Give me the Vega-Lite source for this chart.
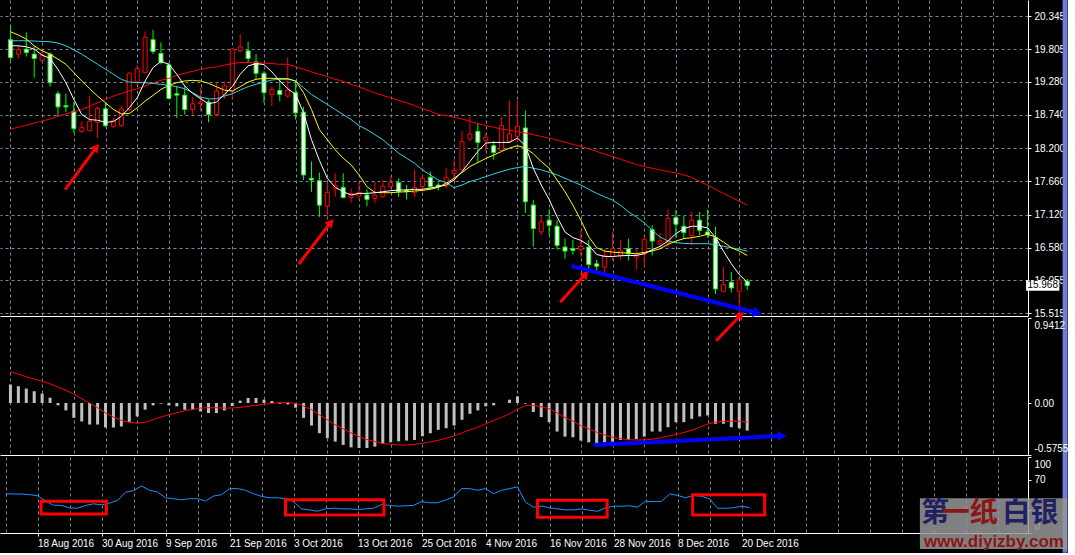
{
"$schema":"https://vega.github.io/schema/vega-lite/v6.json",
"background":"#000000",
"padding":0,
"spacing":2,
"bounds":"flush",
"resolve":{"scale":{"x":"independent","y":"independent"}},
"config":{
 "view":{"stroke":null,"fill":null},
 "axis":{"labelColor":"#ffffff","labelFont":"Liberation Sans","labelFontSize":10,"tickColor":"#ffffff","domainColor":"#ffffff","gridColor":"#778899","gridDash":[3,3],"gridWidth":1,"gridOpacity":1,"tickSize":3,"labelPadding":3,"labelOverlap":false,"labelBound":false,"labelFlush":false,"title":null}
},
"datasets":{
"bars":[
{"i":0,"d":"2016-08-12","o":19.963,"h":20.203,"l":19.631,"c":19.674,"m5":19.865,"m10":20.094,"m20":19.947,"m60":18.512,"hist":0.204,"sig":0.346,"rsi":51.7},
{"i":1,"d":"2016-08-15","o":19.729,"h":19.865,"l":19.658,"c":19.8,"m5":19.865,"m10":20.04,"m20":19.947,"m60":18.54,"hist":0.186,"sig":0.32,"rsi":51.3},
{"i":2,"d":"2016-08-16","o":19.811,"h":20.083,"l":19.691,"c":19.756,"m5":19.849,"m10":19.974,"m20":19.947,"m60":18.572,"hist":0.16,"sig":0.29,"rsi":51.3},
{"i":3,"d":"2016-08-17","o":19.729,"h":19.865,"l":19.347,"c":19.658,"m5":19.811,"m10":19.865,"m20":19.942,"m60":18.611,"hist":0.13,"sig":0.264,"rsi":50.4},
{"i":4,"d":"2016-08-18","o":19.631,"h":19.783,"l":19.593,"c":19.713,"m5":19.713,"m10":19.783,"m20":19.936,"m60":18.638,"hist":0.104,"sig":0.242,"rsi":49.1},
{"i":5,"d":"2016-08-19","o":19.729,"h":19.756,"l":19.2,"c":19.265,"m5":19.66,"m10":19.729,"m20":19.931,"m60":18.676,"hist":0.059,"sig":0.212,"rsi":42.0},
{"i":6,"d":"2016-08-22","o":19.085,"h":19.129,"l":18.709,"c":18.872,"m5":19.48,"m10":19.647,"m20":19.909,"m60":18.72,"hist":-0.026,"sig":0.178,"rsi":36.6},
{"i":7,"d":"2016-08-23","o":18.894,"h":19.085,"l":18.785,"c":18.872,"m5":19.265,"m10":19.565,"m20":19.865,"m60":18.758,"hist":-0.082,"sig":0.141,"rsi":36.2},
{"i":8,"d":"2016-08-24","o":18.801,"h":18.949,"l":18.447,"c":18.518,"m5":18.993,"m10":19.429,"m20":19.8,"m60":18.791,"hist":-0.164,"sig":0.097,"rsi":33.1},
{"i":9,"d":"2016-08-25","o":18.474,"h":18.638,"l":18.447,"c":18.54,"m5":18.747,"m10":19.293,"m20":19.729,"m60":18.829,"hist":-0.204,"sig":0.048,"rsi":32.6},
{"i":10,"d":"2016-08-26","o":18.485,"h":19.047,"l":18.474,"c":18.638,"m5":18.665,"m10":19.167,"m20":19.647,"m60":18.883,"hist":-0.238,"sig":0.0,"rsi":36.2},
{"i":11,"d":"2016-08-29","o":18.621,"h":18.883,"l":18.365,"c":18.845,"m5":18.654,"m10":19.047,"m20":19.565,"m60":18.938,"hist":-0.238,"sig":-0.052,"rsi":38.4},
{"i":12,"d":"2016-08-30","o":18.84,"h":18.938,"l":18.545,"c":18.567,"m5":18.621,"m10":18.938,"m20":19.484,"m60":18.993,"hist":-0.271,"sig":-0.108,"rsi":37.1},
{"i":13,"d":"2016-08-31","o":18.556,"h":18.692,"l":18.529,"c":18.649,"m5":18.632,"m10":18.829,"m20":19.402,"m60":19.047,"hist":-0.271,"sig":-0.156,"rsi":39.3},
{"i":14,"d":"2016-09-01","o":18.567,"h":18.894,"l":18.545,"c":18.84,"m5":18.72,"m10":18.758,"m20":19.32,"m60":19.091,"hist":-0.26,"sig":-0.193,"rsi":42.9},
{"i":15,"d":"2016-09-02","o":18.829,"h":19.44,"l":18.802,"c":19.418,"m5":18.856,"m10":18.763,"m20":19.276,"m60":19.129,"hist":-0.212,"sig":-0.212,"rsi":53.5},
{"i":16,"d":"2016-09-05","o":19.276,"h":19.549,"l":19.222,"c":19.494,"m5":19.02,"m10":18.856,"m20":19.265,"m60":19.167,"hist":-0.149,"sig":-0.223,"rsi":55.8},
{"i":17,"d":"2016-09-06","o":19.429,"h":20.1,"l":19.418,"c":20.002,"m5":19.293,"m10":18.965,"m20":19.265,"m60":19.211,"hist":-0.074,"sig":-0.212,"rsi":62.0},
{"i":18,"d":"2016-09-07","o":19.963,"h":20.122,"l":19.729,"c":19.773,"m5":19.511,"m10":19.058,"m20":19.254,"m60":19.265,"hist":-0.026,"sig":-0.186,"rsi":56.2},
{"i":19,"d":"2016-09-08","o":19.74,"h":19.92,"l":19.565,"c":19.593,"m5":19.609,"m10":19.156,"m20":19.238,"m60":19.303,"hist":-0.007,"sig":-0.156,"rsi":54.0},
{"i":20,"d":"2016-09-09","o":19.554,"h":19.582,"l":18.993,"c":19.009,"m5":19.565,"m10":19.222,"m20":19.222,"m60":19.336,"hist":-0.026,"sig":-0.13,"rsi":46.4},
{"i":21,"d":"2016-09-12","o":19.085,"h":19.211,"l":18.692,"c":19.063,"m5":19.402,"m10":19.265,"m20":19.2,"m60":19.385,"hist":-0.037,"sig":-0.108,"rsi":45.1},
{"i":22,"d":"2016-09-13","o":19.063,"h":19.222,"l":18.747,"c":18.829,"m5":19.211,"m10":19.293,"m20":19.167,"m60":19.418,"hist":-0.074,"sig":-0.085,"rsi":43.8},
{"i":23,"d":"2016-09-14","o":18.829,"h":19.031,"l":18.747,"c":18.922,"m5":19.091,"m10":19.303,"m20":19.102,"m60":19.451,"hist":-0.074,"sig":-0.071,"rsi":45.1},
{"i":24,"d":"2016-09-15","o":18.927,"h":19.184,"l":18.802,"c":18.949,"m5":19.003,"m10":19.293,"m20":19.031,"m60":19.483,"hist":-0.093,"sig":-0.056,"rsi":45.1},
{"i":25,"d":"2016-09-16","o":18.949,"h":18.993,"l":18.621,"c":18.747,"m5":18.922,"m10":19.254,"m20":19.003,"m60":19.505,"hist":-0.111,"sig":-0.052,"rsi":42.0},
{"i":26,"d":"2016-09-19","o":18.747,"h":19.282,"l":18.72,"c":19.129,"m5":18.949,"m10":19.2,"m20":19.003,"m60":19.522,"hist":-0.111,"sig":-0.052,"rsi":48.6},
{"i":27,"d":"2016-09-20","o":19.074,"h":19.282,"l":19.003,"c":19.211,"m5":19.074,"m10":19.145,"m20":19.047,"m60":19.549,"hist":-0.082,"sig":-0.056,"rsi":50.4},
{"i":28,"d":"2016-09-21","o":19.129,"h":19.827,"l":18.993,"c":19.811,"m5":19.2,"m10":19.129,"m20":19.085,"m60":19.576,"hist":-0.033,"sig":-0.056,"rsi":58.4},
{"i":29,"d":"2016-09-22","o":19.783,"h":20.056,"l":19.756,"c":19.849,"m5":19.402,"m10":19.2,"m20":19.145,"m60":19.593,"hist":0.026,"sig":-0.048,"rsi":58.4},
{"i":30,"d":"2016-09-23","o":19.783,"h":19.931,"l":19.593,"c":19.658,"m5":19.538,"m10":19.276,"m20":19.2,"m60":19.593,"hist":0.056,"sig":-0.037,"rsi":56.2},
{"i":31,"d":"2016-09-26","o":19.603,"h":19.729,"l":19.32,"c":19.418,"m5":19.576,"m10":19.32,"m20":19.238,"m60":19.593,"hist":0.056,"sig":-0.026,"rsi":51.7},
{"i":32,"d":"2016-09-27","o":19.418,"h":19.456,"l":18.938,"c":19.102,"m5":19.56,"m10":19.336,"m20":19.276,"m60":19.582,"hist":0.037,"sig":-0.015,"rsi":48.2},
{"i":33,"d":"2016-09-28","o":19.074,"h":19.2,"l":18.883,"c":19.156,"m5":19.44,"m10":19.336,"m20":19.309,"m60":19.576,"hist":0.022,"sig":-0.004,"rsi":46.4},
{"i":34,"d":"2016-09-29","o":19.14,"h":19.347,"l":18.965,"c":19.074,"m5":19.293,"m10":19.331,"m20":19.32,"m60":19.565,"hist":-0.007,"sig":0.007,"rsi":46.4},
{"i":35,"d":"2016-09-30","o":19.047,"h":19.674,"l":19.02,"c":19.145,"m5":19.167,"m10":19.331,"m20":19.32,"m60":19.565,"hist":-0.015,"sig":0.007,"rsi":45.1},
{"i":36,"d":"2016-10-03","o":19.102,"h":19.293,"l":18.665,"c":18.774,"m5":19.074,"m10":19.293,"m20":19.293,"m60":19.522,"hist":-0.052,"sig":-0.004,"rsi":41.5},
{"i":37,"d":"2016-10-04","o":18.785,"h":18.872,"l":17.683,"c":17.765,"m5":18.774,"m10":19.102,"m20":19.184,"m60":19.483,"hist":-0.164,"sig":-0.033,"rsi":31.8},
{"i":38,"d":"2016-10-05","o":17.71,"h":17.983,"l":17.492,"c":17.683,"m5":18.338,"m10":18.829,"m20":19.074,"m60":19.44,"hist":-0.249,"sig":-0.074,"rsi":30.4},
{"i":39,"d":"2016-10-06","o":17.672,"h":17.803,"l":17.083,"c":17.274,"m5":18.0,"m10":18.502,"m20":18.993,"m60":19.402,"hist":-0.334,"sig":-0.13,"rsi":28.6},
{"i":40,"d":"2016-10-07","o":17.258,"h":17.639,"l":17.072,"c":17.481,"m5":17.711,"m10":18.338,"m20":18.911,"m60":19.363,"hist":-0.39,"sig":-0.186,"rsi":31.8},
{"i":41,"d":"2016-10-10","o":17.536,"h":17.792,"l":17.411,"c":17.591,"m5":17.563,"m10":18.174,"m20":18.829,"m60":19.32,"hist":-0.427,"sig":-0.242,"rsi":32.6},
{"i":42,"d":"2016-10-11","o":17.563,"h":17.792,"l":17.383,"c":17.4,"m5":17.492,"m10":18.038,"m20":18.747,"m60":19.287,"hist":-0.464,"sig":-0.286,"rsi":31.8},
{"i":43,"d":"2016-10-12","o":17.4,"h":17.547,"l":17.312,"c":17.465,"m5":17.438,"m10":17.929,"m20":18.665,"m60":19.238,"hist":-0.491,"sig":-0.331,"rsi":31.8},
{"i":44,"d":"2016-10-13","o":17.421,"h":17.656,"l":17.356,"c":17.476,"m5":17.465,"m10":17.765,"m20":18.567,"m60":19.2,"hist":-0.498,"sig":-0.372,"rsi":30.9},
{"i":45,"d":"2016-10-14","o":17.438,"h":17.53,"l":17.258,"c":17.367,"m5":17.465,"m10":17.574,"m20":18.502,"m60":19.145,"hist":-0.498,"sig":-0.405,"rsi":31.8},
{"i":46,"d":"2016-10-17","o":17.383,"h":17.656,"l":17.312,"c":17.438,"m5":17.476,"m10":17.481,"m20":18.42,"m60":19.102,"hist":-0.483,"sig":-0.427,"rsi":32.6},
{"i":47,"d":"2016-10-18","o":17.411,"h":17.683,"l":17.394,"c":17.585,"m5":17.492,"m10":17.476,"m20":18.338,"m60":19.058,"hist":-0.453,"sig":-0.446,"rsi":37.5},
{"i":48,"d":"2016-10-19","o":17.574,"h":17.749,"l":17.547,"c":17.64,"m5":17.509,"m10":17.476,"m20":18.229,"m60":19.02,"hist":-0.435,"sig":-0.457,"rsi":36.2},
{"i":49,"d":"2016-10-20","o":17.64,"h":17.711,"l":17.411,"c":17.492,"m5":17.52,"m10":17.487,"m20":18.12,"m60":18.976,"hist":-0.424,"sig":-0.465,"rsi":35.3},
{"i":50,"d":"2016-10-21","o":17.52,"h":17.601,"l":17.367,"c":17.492,"m5":17.52,"m10":17.492,"m20":18.038,"m60":18.938,"hist":-0.416,"sig":-0.465,"rsi":35.8},
{"i":51,"d":"2016-10-24","o":17.476,"h":17.847,"l":17.411,"c":17.563,"m5":17.531,"m10":17.503,"m20":17.956,"m60":18.894,"hist":-0.409,"sig":-0.457,"rsi":36.2},
{"i":52,"d":"2016-10-25","o":17.574,"h":17.765,"l":17.492,"c":17.711,"m5":17.531,"m10":17.514,"m20":17.847,"m60":18.845,"hist":-0.368,"sig":-0.446,"rsi":41.5},
{"i":53,"d":"2016-10-26","o":17.727,"h":17.82,"l":17.52,"c":17.574,"m5":17.552,"m10":17.531,"m20":17.765,"m60":18.802,"hist":-0.334,"sig":-0.431,"rsi":39.8},
{"i":54,"d":"2016-10-27","o":17.601,"h":17.64,"l":17.509,"c":17.574,"m5":17.574,"m10":17.563,"m20":17.683,"m60":18.747,"hist":-0.297,"sig":-0.412,"rsi":39.8},
{"i":55,"d":"2016-10-28","o":17.585,"h":17.874,"l":17.547,"c":17.721,"m5":17.601,"m10":17.629,"m20":17.64,"m60":18.731,"hist":-0.279,"sig":-0.39,"rsi":43.3},
{"i":56,"d":"2016-10-31","o":17.792,"h":18.011,"l":17.656,"c":17.836,"m5":17.683,"m10":17.711,"m20":17.558,"m60":18.703,"hist":-0.249,"sig":-0.364,"rsi":47.3},
{"i":57,"d":"2016-11-01","o":17.847,"h":18.474,"l":17.836,"c":18.311,"m5":17.82,"m10":17.803,"m20":17.601,"m60":18.676,"hist":-0.186,"sig":-0.331,"rsi":58.4},
{"i":58,"d":"2016-11-02","o":18.349,"h":18.72,"l":18.311,"c":18.431,"m5":17.983,"m10":17.902,"m20":17.656,"m60":18.638,"hist":-0.119,"sig":-0.297,"rsi":58.4},
{"i":59,"d":"2016-11-03","o":18.474,"h":18.611,"l":17.956,"c":18.294,"m5":18.147,"m10":17.967,"m20":17.694,"m60":18.6,"hist":-0.082,"sig":-0.268,"rsi":56.2},
{"i":60,"d":"2016-11-04","o":18.327,"h":18.447,"l":18.147,"c":18.381,"m5":18.283,"m10":18.032,"m20":17.738,"m60":18.567,"hist":-0.037,"sig":-0.23,"rsi":58.4},
{"i":61,"d":"2016-11-07","o":18.24,"h":18.311,"l":18.011,"c":18.131,"m5":18.294,"m10":18.087,"m20":17.781,"m60":18.54,"hist":-0.026,"sig":-0.193,"rsi":51.7},
{"i":62,"d":"2016-11-08","o":18.163,"h":18.709,"l":18.147,"c":18.567,"m5":18.294,"m10":18.147,"m20":17.82,"m60":18.512,"hist":0.0,"sig":-0.16,"rsi":56.2},
{"i":63,"d":"2016-11-09","o":18.311,"h":18.976,"l":18.283,"c":18.431,"m5":18.294,"m10":18.202,"m20":17.858,"m60":18.491,"hist":0.037,"sig":-0.119,"rsi":58.4},
{"i":64,"d":"2016-11-10","o":18.392,"h":18.976,"l":18.311,"c":18.556,"m5":18.365,"m10":18.24,"m20":17.885,"m60":18.469,"hist":0.074,"sig":-0.071,"rsi":60.6},
{"i":65,"d":"2016-11-11","o":18.529,"h":18.812,"l":17.149,"c":17.329,"m5":18.24,"m10":18.202,"m20":17.902,"m60":18.447,"hist":-0.007,"sig":-0.03,"rsi":40.6},
{"i":66,"d":"2016-11-14","o":17.274,"h":17.356,"l":16.603,"c":16.892,"m5":17.874,"m10":18.109,"m20":17.874,"m60":18.42,"hist":-0.1,"sig":-0.026,"rsi":34.0},
{"i":67,"d":"2016-11-15","o":16.838,"h":17.11,"l":16.783,"c":17.001,"m5":17.601,"m10":17.983,"m20":17.847,"m60":18.392,"hist":-0.156,"sig":-0.041,"rsi":35.3},
{"i":68,"d":"2016-11-16","o":17.029,"h":17.203,"l":16.783,"c":16.947,"m5":17.367,"m10":17.874,"m20":17.809,"m60":18.365,"hist":-0.212,"sig":-0.063,"rsi":33.1},
{"i":69,"d":"2016-11-17","o":16.93,"h":17.029,"l":16.549,"c":16.62,"m5":17.083,"m10":17.683,"m20":17.765,"m60":18.332,"hist":-0.316,"sig":-0.108,"rsi":31.8},
{"i":70,"d":"2016-11-18","o":16.592,"h":16.729,"l":16.401,"c":16.527,"m5":16.838,"m10":17.492,"m20":17.711,"m60":18.3,"hist":-0.372,"sig":-0.16,"rsi":30.4},
{"i":71,"d":"2016-11-21","o":16.565,"h":16.712,"l":16.472,"c":16.538,"m5":16.745,"m10":17.274,"m20":17.656,"m60":18.261,"hist":-0.379,"sig":-0.201,"rsi":30.4},
{"i":72,"d":"2016-11-22","o":16.549,"h":16.865,"l":16.429,"c":16.603,"m5":16.701,"m10":17.029,"m20":17.601,"m60":18.229,"hist":-0.416,"sig":-0.249,"rsi":31.8},
{"i":73,"d":"2016-11-23","o":16.592,"h":16.712,"l":16.221,"c":16.309,"m5":16.62,"m10":16.756,"m20":17.531,"m60":18.191,"hist":-0.435,"sig":-0.286,"rsi":30.0},
{"i":74,"d":"2016-11-24","o":16.319,"h":16.385,"l":16.183,"c":16.281,"m5":16.472,"m10":16.581,"m20":17.465,"m60":18.147,"hist":-0.453,"sig":-0.323,"rsi":28.6},
{"i":75,"d":"2016-11-25","o":16.265,"h":16.565,"l":16.156,"c":16.456,"m5":16.439,"m10":16.527,"m20":17.41,"m60":18.103,"hist":-0.435,"sig":-0.353,"rsi":33.1},
{"i":76,"d":"2016-11-28","o":16.439,"h":16.838,"l":16.374,"c":16.565,"m5":16.439,"m10":16.51,"m20":17.356,"m60":18.065,"hist":-0.428,"sig":-0.379,"rsi":35.3},
{"i":77,"d":"2016-11-29","o":16.456,"h":16.701,"l":16.385,"c":16.527,"m5":16.45,"m10":16.499,"m20":17.274,"m60":18.021,"hist":-0.409,"sig":-0.394,"rsi":35.3},
{"i":78,"d":"2016-11-30","o":16.565,"h":16.729,"l":16.374,"c":16.483,"m5":16.456,"m10":16.494,"m20":17.165,"m60":17.978,"hist":-0.409,"sig":-0.405,"rsi":35.8},
{"i":79,"d":"2016-12-01","o":16.429,"h":16.565,"l":16.221,"c":16.456,"m5":16.456,"m10":16.483,"m20":17.083,"m60":17.934,"hist":-0.398,"sig":-0.409,"rsi":34.0},
{"i":80,"d":"2016-12-02","o":16.483,"h":16.756,"l":16.276,"c":16.712,"m5":16.483,"m10":16.505,"m20":16.985,"m60":17.902,"hist":-0.372,"sig":-0.409,"rsi":41.5},
{"i":81,"d":"2016-12-05","o":16.876,"h":16.947,"l":16.456,"c":16.69,"m5":16.549,"m10":16.527,"m20":16.865,"m60":17.874,"hist":-0.316,"sig":-0.401,"rsi":41.5},
{"i":82,"d":"2016-12-06","o":16.647,"h":16.821,"l":16.581,"c":16.69,"m5":16.603,"m10":16.565,"m20":16.756,"m60":17.847,"hist":-0.316,"sig":-0.386,"rsi":41.5},
{"i":83,"d":"2016-12-07","o":16.658,"h":17.203,"l":16.592,"c":17.056,"m5":16.69,"m10":16.636,"m20":16.69,"m60":17.82,"hist":-0.268,"sig":-0.368,"rsi":51.3},
{"i":84,"d":"2016-12-08","o":17.072,"h":17.192,"l":16.745,"c":16.963,"m5":16.81,"m10":16.69,"m20":16.663,"m60":17.798,"hist":-0.212,"sig":-0.349,"rsi":49.5},
{"i":85,"d":"2016-12-09","o":16.93,"h":17.094,"l":16.729,"c":16.827,"m5":16.892,"m10":16.729,"m20":16.652,"m60":17.765,"hist":-0.212,"sig":-0.327,"rsi":46.4},
{"i":86,"d":"2016-12-12","o":16.783,"h":17.165,"l":16.62,"c":17.029,"m5":16.93,"m10":16.745,"m20":16.647,"m60":17.727,"hist":-0.175,"sig":-0.301,"rsi":49.5},
{"i":87,"d":"2016-12-13","o":17.029,"h":17.165,"l":16.783,"c":16.865,"m5":16.93,"m10":16.767,"m20":16.647,"m60":17.656,"hist":-0.149,"sig":-0.268,"rsi":48.2},
{"i":88,"d":"2016-12-14","o":16.838,"h":17.203,"l":16.745,"c":16.794,"m5":16.903,"m10":16.8,"m20":16.647,"m60":17.601,"hist":-0.137,"sig":-0.234,"rsi":45.1},
{"i":89,"d":"2016-12-15","o":16.745,"h":16.92,"l":15.829,"c":15.911,"m5":16.745,"m10":16.756,"m20":16.63,"m60":17.531,"hist":-0.23,"sig":-0.212,"rsi":32.6},
{"i":90,"d":"2016-12-16","o":15.872,"h":16.265,"l":15.856,"c":15.981,"m5":16.527,"m10":16.674,"m20":16.603,"m60":17.465,"hist":-0.23,"sig":-0.204,"rsi":32.6},
{"i":91,"d":"2016-12-19","o":16.019,"h":16.183,"l":15.856,"c":15.927,"m5":16.32,"m10":16.581,"m20":16.581,"m60":17.4,"hist":-0.268,"sig":-0.201,"rsi":33.1},
{"i":92,"d":"2016-12-20","o":15.872,"h":16.058,"l":15.48,"c":16.058,"m5":16.145,"m10":16.527,"m20":16.554,"m60":17.339,"hist":-0.279,"sig":-0.201,"rsi":35.3},
{"i":93,"d":"2016-12-21","o":16.036,"h":16.074,"l":15.894,"c":15.968,"m5":16.02,"m10":16.456,"m20":16.527,"m60":17.274,"hist":-0.305,"sig":-0.212,"rsi":33.5}
],
"redArrows":[{"i":6.9,"p":17.525,"i2":10.85,"p2":18.214},{"i":36.4,"p":16.316,"i2":40.44,"p2":16.995},{"i":69.4,"p":15.693,"i2":72.6,"p2":16.154},{"i":89.09,"p":15.069,"i2":92.19,"p2":15.487}],
"blueMain":[{"i":70.81,"p":16.284,"i2":94.3,"p2":15.52}],
"blueMacd":[{"i":73.6,"v":-0.465,"i2":97.4,"v2":-0.363}],
"boxes":[{"i":4.44,"v":41.7,"i2":12.61,"v2":25.0},{"i":35.0,"v":43.8,"i2":47.3,"v2":23.7},{"i":66.5,"v":43.0,"i2":75.2,"v2":20.7},{"i":85.9,"v":50.4,"i2":94.9,"v2":23.7}],
"quote":[{"i":128.2,"i2":132.4,"p":16.056,"p2":15.882,"ic":130.3,"pc":15.968,"label":"15.968"}],
"frame":[{"i":132.8125,"i2":133.4375,"p":20.6097,"p2":11.62}],
"logo":[{"i":114.3,"i2":132.7,"v":45.7,"v2":-21.1}],
"logoText":[{"t":"第","i":116.2,"v":25.4,"tone":"navy"},{"t":"一纸","i":120.53,"v":25.4,"tone":"red"},{"t":"白银","i":128.1,"v":25.4,"tone":"navy"}],
"logoUrl":[{"t":"www.diyizby.com","i":123.56,"v":-18.8}]
},
"vconcat":[
{
 "width":1028,"height":316,
 "data":{"name":"bars"},
 "encoding":{"x":{"field":"i","type":"quantitative","title":null,"scale":{"domain":[-0.6875,127.8125],"nice":false,"zero":false},"axis":{"orient":"bottom","tickCount":64,"values":[0,4,8,12,16,20,24,28,32,36,40,44,48,52,56,60,64,68,72,76,80,84,88,92,96,100,104,108,112,116,120,124],"labels":false,"ticks":false,"grid":true,"domain":true}}},
 "layer":[
  {"data":{"values":[{"p":15.968}]},"mark":{"type":"rule","color":"#778899","strokeWidth":1},
   "encoding":{"x":{"datum":-0.6875},"x2":{"datum":127.8125},"y":{"field":"p","type":"quantitative","title":null,"scale":{"domain":[15.471,20.6097],"nice":false,"zero":false},
   "axis":{"orient":"right","tickCount":40,"values":[15.515,16.055,16.58,17.12,17.66,18.2,18.74,19.28,19.805,20.345],"format":".3f","grid":true,"domain":true,"ticks":true}}}},
  {"mark":{"type":"rule","strokeWidth":1},"encoding":{"y":{"field":"l","type":"quantitative","title":null,"scale":{"domain":[15.471,20.6097],"nice":false,"zero":false}},"y2":{"field":"h"},"color":{"condition":{"test":"datum.c >= datum.o","value":"#ff0000"},"value":"#00ff00"}}},
  {"mark":{"type":"bar","width":4,"strokeWidth":1},"encoding":{"y":{"field":"o","type":"quantitative","title":null,"scale":{"domain":[15.471,20.6097],"nice":false,"zero":false}},"y2":{"field":"c"},"fill":{"condition":{"test":"datum.c >= datum.o","value":"#000000"},"value":"#ffffff"},"stroke":{"condition":{"test":"datum.c >= datum.o","value":"#ff0000"},"value":"#00ff00"}}},
  {"mark":{"type":"line","color":"#ff0000","strokeWidth":1},"encoding":{"y":{"field":"m60","type":"quantitative","title":null,"scale":{"domain":[15.471,20.6097],"nice":false,"zero":false}}}},
  {"mark":{"type":"line","color":"#35d4e2","strokeWidth":1},"encoding":{"y":{"field":"m20","type":"quantitative","title":null,"scale":{"domain":[15.471,20.6097],"nice":false,"zero":false}}}},
  {"mark":{"type":"line","color":"#ffff00","strokeWidth":1},"encoding":{"y":{"field":"m10","type":"quantitative","title":null,"scale":{"domain":[15.471,20.6097],"nice":false,"zero":false}}}},
  {"mark":{"type":"line","color":"#ffffff","strokeWidth":1},"encoding":{"y":{"field":"m5","type":"quantitative","title":null,"scale":{"domain":[15.471,20.6097],"nice":false,"zero":false}}}},
  {"data":{"name":"redArrows"},"mark":{"type":"rule","color":"#ff0000","strokeWidth":3},"encoding":{"x2":{"field":"i2"},"y":{"field":"p","type":"quantitative","title":null,"scale":{"domain":[15.471,20.6097],"nice":false,"zero":false}},"y2":{"field":"p2"}}},
  {"data":{"name":"redArrows"},"mark":{"type":"point","shape":"triangle-up","angle":40,"size":90,"filled":true,"color":"#ff0000","opacity":1},"encoding":{"x":{"field":"i2","type":"quantitative"},"y":{"field":"p2","type":"quantitative","title":null,"scale":{"domain":[15.471,20.6097],"nice":false,"zero":false}}}},
  {"data":{"name":"blueMain"},"mark":{"type":"rule","color":"#0000ff","strokeWidth":4},"encoding":{"x2":{"field":"i2"},"y":{"field":"p","type":"quantitative","title":null,"scale":{"domain":[15.471,20.6097],"nice":false,"zero":false}},"y2":{"field":"p2"}}},
  {"data":{"name":"blueMain"},"mark":{"type":"point","shape":"triangle-up","angle":104,"size":110,"filled":true,"color":"#0000ff","opacity":1},"encoding":{"x":{"field":"i2","type":"quantitative"},"y":{"field":"p2","type":"quantitative","title":null,"scale":{"domain":[15.471,20.6097],"nice":false,"zero":false}}}},
  {"data":{"name":"quote"},"mark":{"type":"rect","color":"#ffffff"},"encoding":{"x2":{"field":"i2"},"y":{"field":"p","type":"quantitative","title":null,"scale":{"domain":[15.471,20.6097],"nice":false,"zero":false}},"y2":{"field":"p2"}}},
  {"data":{"name":"quote"},"mark":{"type":"text","color":"#000000","font":"Liberation Sans","fontSize":10,"align":"center","baseline":"middle"},"encoding":{"x":{"field":"ic","type":"quantitative"},"y":{"field":"pc","type":"quantitative","title":null,"scale":{"domain":[15.471,20.6097],"nice":false,"zero":false}},"text":{"field":"label"}}},
  {"data":{"name":"frame"},"mark":{"type":"rect","color":"#6f7fd8"},"encoding":{"x2":{"field":"i2"},"y":{"field":"p","type":"quantitative","title":null,"scale":{"domain":[15.471,20.6097],"nice":false,"zero":false}},"y2":{"field":"p2"}}}
 ]
},
{
 "width":1028,"height":137,
 "data":{"name":"bars"},
 "encoding":{"x":{"field":"i","type":"quantitative","title":null,"scale":{"domain":[-0.6875,127.8125],"nice":false,"zero":false},"axis":{"orient":"bottom","tickCount":64,"values":[0,4,8,12,16,20,24,28,32,36,40,44,48,52,56,60,64,68,72,76,80,84,88,92,96,100,104,108,112,116,120,124],"labels":false,"ticks":false,"grid":true,"domain":true}}},
 "layer":[
  {"data":{"values":[{"v":0}]},"mark":{"type":"rule","color":"#778899","strokeWidth":1,"strokeDash":[3,3]},
   "encoding":{"x":{"datum":-0.6875},"x2":{"datum":127.8125},"y":{"field":"v","type":"quantitative","title":null,"scale":{"domain":[-0.5755,0.9412],"nice":false,"zero":false},
   "axis":{"orient":"right","tickCount":20,"values":[-0.5755,0,0.9412],"labelExpr":"datum.value == 0 ? '0.00' : (datum.value < 0 ? '-0.5755' : '0.9412')","grid":false,"domain":true,"ticks":true,"labelFlush":true,"labelFlushOffset":-2}}}},
  {"mark":{"type":"bar","width":3,"color":"#c0c0c0"},"encoding":{"y":{"field":"hist","type":"quantitative","title":null,"scale":{"domain":[-0.5755,0.9412],"nice":false,"zero":false}},"y2":{"datum":0}}},
  {"mark":{"type":"line","color":"#ff0000","strokeWidth":1},"encoding":{"y":{"field":"sig","type":"quantitative","title":null,"scale":{"domain":[-0.5755,0.9412],"nice":false,"zero":false}}}},
  {"data":{"values":[{"v":0.9412}]},"mark":{"type":"rule","color":"#ffffff","strokeWidth":1},"encoding":{"x":{"datum":-0.6875},"x2":{"datum":127.8125},"y":{"field":"v","type":"quantitative","title":null,"scale":{"domain":[-0.5755,0.9412],"nice":false,"zero":false}}}},
  {"data":{"name":"blueMacd"},"mark":{"type":"rule","color":"#0000ff","strokeWidth":4},"encoding":{"x2":{"field":"i2"},"y":{"field":"v","type":"quantitative","title":null,"scale":{"domain":[-0.5755,0.9412],"nice":false,"zero":false}},"y2":{"field":"v2"}}},
  {"data":{"name":"blueMacd"},"mark":{"type":"point","shape":"triangle-up","angle":87,"size":110,"filled":true,"color":"#0000ff","opacity":1},"encoding":{"x":{"field":"i2","type":"quantitative"},"y":{"field":"v2","type":"quantitative","title":null,"scale":{"domain":[-0.5755,0.9412],"nice":false,"zero":false}}}}
 ]
},
{
 "width":1028,"height":76,
 "data":{"name":"bars"},
 "encoding":{"x":{"field":"i","type":"quantitative","title":null,"scale":{"domain":[-0.6875,127.8125],"nice":false,"zero":false},"axis":{"orient":"bottom","tickCount":64,"values":[0,4,8,12,16,20,24,28,32,36,40,44,48,52,56,60,64,68,72,76,80,84,88,92,96,100,104,108,112,116,120,124],"grid":true,"domain":true,"ticks":true,"tickSize":3,
  "tickOpacity":{"condition":{"test":"datum.value % 8 == 4 && datum.value <= 92","value":1},"value":0},
  "labelExpr":"datum.value % 8 == 4 && datum.value <= 92 ? ['18 Aug 2016','30 Aug 2016','9 Sep 2016','21 Sep 2016','3 Oct 2016','13 Oct 2016','25 Oct 2016','4 Nov 2016','16 Nov 2016','28 Nov 2016','8 Dec 2016','20 Dec 2016'][(datum.value - 4) / 8] : ''",
  "labelAlign":"left","labelBaseline":"top","labelPadding":2}}},
 "layer":[
  {"data":{"values":[{"v":70},{"v":30}]},"mark":{"type":"rule","color":"#c0c0c0","strokeWidth":1,"strokeDash":[3,3]},
   "encoding":{"x":{"datum":-0.6875},"x2":{"datum":127.8125},"y":{"field":"v","type":"quantitative","title":null,"scale":{"domain":[0,100],"nice":false,"zero":false},
   "axis":{"orient":"right","tickCount":20,"values":[0,30,70,100],"grid":false,"domain":true,"ticks":true,"labelFlush":true,"labelFlushOffset":-2}}}},
  {"mark":{"type":"line","color":"#1e90ff","strokeWidth":1},"encoding":{"y":{"field":"rsi","type":"quantitative","title":null,"scale":{"domain":[0,100],"nice":false,"zero":false}}}},
  {"data":{"values":[{"v":100}]},"mark":{"type":"rule","color":"#ffffff","strokeWidth":1},"encoding":{"x":{"datum":-0.6875},"x2":{"datum":127.8125},"y":{"field":"v","type":"quantitative","title":null,"scale":{"domain":[0,100],"nice":false,"zero":false}}}},
  {"data":{"name":"boxes"},"mark":{"type":"rect","filled":false,"color":"#ff0000","strokeWidth":3},"encoding":{"x2":{"field":"i2"},"y":{"field":"v","type":"quantitative","title":null,"scale":{"domain":[0,100],"nice":false,"zero":false}},"y2":{"field":"v2"}}},
  {"data":{"name":"logo"},"mark":{"type":"rect","color":"#969696","opacity":0.85},"encoding":{"x2":{"field":"i2"},"y":{"field":"v","type":"quantitative","title":null,"scale":{"domain":[0,100],"nice":false,"zero":false}},"y2":{"field":"v2"}}},
  {"data":{"name":"logoText"},"mark":{"type":"text","font":"Noto Sans CJK SC","fontWeight":"bold","fontSize":28,"align":"center","baseline":"middle"},"encoding":{"y":{"field":"v","type":"quantitative","title":null,"scale":{"domain":[0,100],"nice":false,"zero":false}},"text":{"field":"t"},"color":{"field":"tone","type":"nominal","scale":{"domain":["navy","red"],"range":["#1f2160","#8a1616"]},"legend":null}}},
  {"data":{"name":"logoUrl"},"mark":{"type":"text","font":"Liberation Sans","fontWeight":"bold","fontSize":17,"align":"center","baseline":"alphabetic","color":"#8a1616"},"encoding":{"y":{"field":"v","type":"quantitative","title":null,"scale":{"domain":[0,100],"nice":false,"zero":false}},"text":{"field":"t"}}}
 ]
}
]
}
